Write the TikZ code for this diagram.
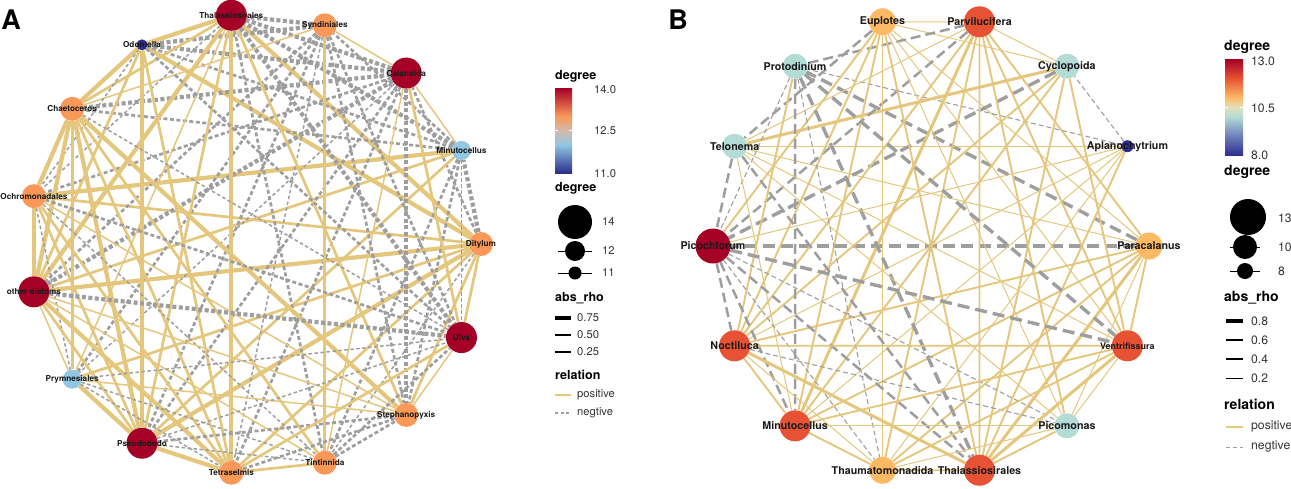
\documentclass[tikz,border=0pt]{standalone}
\usepackage{fontspec}
\setmainfont{TeX Gyre Heros}
\usetikzlibrary{backgrounds}
\definecolor{posedge}{RGB}{228,198,125}
\definecolor{negedge}{RGB}{158,158,158}
\definecolor{degA14}{RGB}{165,0,38}
\definecolor{degA13}{RGB}{250,152,88}
\definecolor{degA12}{RGB}{145,199,226}
\definecolor{degA11}{RGB}{43,46,143}
\definecolor{midA}{RGB}{212,184,172}
\definecolor{degB13}{RGB}{165,0,38}
\definecolor{degB12}{RGB}{231,82,52}
\definecolor{degB11}{RGB}{253,185,100}
\definecolor{degB10}{RGB}{180,220,214}
\definecolor{degB9}{RGB}{112,128,185}
\definecolor{degB8}{RGB}{45,46,145}
\definecolor{midB}{RGB}{228,222,186}
\tikzset{
  vert/.style={circle, inner sep=0pt, minimum size=#1},
  labA/.style={font=\fontsize{8.2}{9}\selectfont\bfseries, text=black!90, inner sep=0pt},
  labB/.style={font=\fontsize{10.7}{12}\selectfont\bfseries, text=black!90, inner sep=0pt},
  legtitleA/.style={font=\fontsize{12.5}{14}\selectfont\bfseries, anchor=west, inner sep=0pt},
  legtextA/.style={font=\fontsize{11.2}{13}\selectfont, text=black!80, anchor=west, inner sep=0pt},
  legtitleB/.style={font=\fontsize{14}{16}\selectfont\bfseries, anchor=west, inner sep=0pt},
  legtextB/.style={font=\fontsize{12.2}{14}\selectfont, text=black!80, anchor=west, inner sep=0pt},
  posA1/.style={posedge, line width=1.5pt},
  posA2/.style={posedge, line width=2.7pt},
  posA3/.style={posedge, line width=4.2pt},
  negA1/.style={negedge, line width=1.5pt, dash pattern=on 3.5pt off 2.5pt},
  negA2/.style={negedge, line width=2.7pt, dash pattern=on 4pt off 2.5pt},
  negA3/.style={negedge, line width=4.2pt, dash pattern=on 4pt off 2.5pt},
  posB1/.style={posedge, line width=1pt},
  posB2/.style={posedge, line width=1.9pt},
  posB3/.style={posedge, line width=3pt},
  negB1/.style={negedge, line width=1.1pt, dash pattern=on 5pt off 3pt},
  negB2/.style={negedge, line width=2.5pt, dash pattern=on 10pt off 5pt},
  negB3/.style={negedge, line width=3.4pt, dash pattern=on 12pt off 6pt}
}

\begin{document}
\begin{tikzpicture}[x=1pt, y=-1pt]
  \useasboundingbox (0,0) rectangle (1291,488);

  % Panel letters
  \node[font=\fontsize{27}{30}\selectfont\bfseries] (letA) at (11,20) {A};
  \node[font=\fontsize{27}{30}\selectfont\bfseries] (letB) at (678,20) {B};

  % Panel A vertices
  \foreach \nm/\k/\c/\d in {Dit/0/degA13/24, Min/1/degA12/19, Cal/2/degA14/31, Syn/3/degA13/24,
      Tha/4/degA14/31, Odo/5/degA11/11, Cha/6/degA13/24, Och/7/degA13/24, Oth/8/degA14/31,
      Pry/9/degA12/19, Pse/10/degA14/31, Tet/11/degA13/24, Tin/12/degA13/24, Ste/13/degA13/24,
      Ulv/14/degA14/31}
    \node[vert=\d pt, fill=\c] (a\nm) at ({255+226*cos(24*\k)}, {244-230*sin(24*\k)}) {};

  % Panel A edges
  \begin{pgfonlayer}{background}
  \foreach \u/\v/\s in {Dit/Min/negA3, Dit/Cal/negA2, Dit/Tha/posA3, Dit/Odo/posA3, Dit/Och/posA2,
      Dit/Oth/posA3, Dit/Pry/posA2, Dit/Pse/posA3, Dit/Tet/posA2, Dit/Tin/negA1, Dit/Ste/posA2,
      Dit/Ulv/posA2, Min/Cal/posA1, Min/Syn/negA2, Min/Tha/negA3, Min/Odo/negA2, Min/Cha/negA2,
      Min/Och/posA3, Min/Oth/posA2, Min/Pse/posA2, Min/Tin/negA2, Min/Ste/negA2, Min/Ulv/negA1,
      Cal/Syn/posA1, Cal/Tha/negA3, Cal/Odo/negA3, Cal/Cha/negA3, Cal/Och/negA2, Cal/Oth/negA3,
      Cal/Pry/negA1, Cal/Pse/negA2, Cal/Tet/negA2, Cal/Tin/posA1, Cal/Ste/negA3, Cal/Ulv/posA2,
      Syn/Tha/negA3, Syn/Odo/negA3, Syn/Cha/posA1, Syn/Oth/negA2, Syn/Pry/negA2, Syn/Pse/negA2,
      Syn/Tet/negA1, Syn/Tin/posA2, Syn/Ste/negA2, Syn/Ulv/negA2,
      Tha/Odo/posA3, Tha/Cha/posA2, Tha/Och/negA1, Tha/Oth/posA3, Tha/Pry/posA1, Tha/Pse/posA2,
      Tha/Tet/posA3, Tha/Tin/negA2, Tha/Ste/posA2, Tha/Ulv/negA3,
      Odo/Cha/posA3, Odo/Och/negA1, Odo/Oth/posA2, Odo/Pse/posA3, Odo/Tet/posA2, Odo/Ulv/negA2,
      Cha/Och/posA3, Cha/Oth/posA3, Cha/Pry/posA2, Cha/Pse/posA3, Cha/Tet/posA2, Cha/Tin/posA2,
      Cha/Ste/posA3, Cha/Ulv/negA1,
      Och/Oth/posA3, Och/Pry/negA1, Och/Pse/posA2, Och/Tet/posA2, Och/Tin/negA1, Och/Ste/posA1,
      Och/Ulv/negA2, Oth/Pry/posA1, Oth/Pse/posA2, Oth/Tet/posA3, Oth/Tin/posA1, Oth/Ste/posA1,
      Oth/Ulv/negA3, Pry/Pse/posA3, Pry/Tet/negA1, Pry/Tin/negA1, Pry/Ste/posA1, Pry/Ulv/negA1,
      Pse/Tet/posA3, Pse/Tin/negA1, Pse/Ste/negA2, Pse/Ulv/negA1,
      Tet/Tin/posA2, Tet/Ste/negA2, Tet/Ulv/posA2, Tin/Ste/negA2, Tin/Ulv/negA2, Ste/Ulv/posA1}
    \draw[\s] (a\u) -- (a\v);
  \end{pgfonlayer}

  % Panel A labels
  \foreach \nm/\t in {Dit/Ditylum, Min/Minutocellus, Cal/Calanoida, Syn/Syndiniales,
      Tha/Thalassiosirales, Odo/Odontella, Cha/Chaetoceros, Och/Ochromonadales,
      Oth/other diatoms, Pry/Prymnesiales, Pse/Pseudobodo, Tet/Tetraselmis, Tin/Tintinnida,
      Ste/Stephanopyxis, Ulv/Ulva}
    \node[labA] (a\nm L) at (a\nm) {\t};

  % Panel B vertices
  \foreach \nm/\k/\c/\d in {Par/0/degB11/27, Apl/1/degB8/12, Cyc/2/degB10/25, Prv/3/degB12/31,
      Eup/4/degB11/27, Pro/5/degB10/25, Tel/6/degB10/25, Pic/7/degB13/35, Noc/8/degB12/31,
      Min/9/degB12/31, Thm/10/degB11/27, Tha/11/degB12/31, Pcm/12/degB10/25, Ven/13/degB12/31}
    \node[vert=\d pt, fill=\c] (b\nm) at ({931+218*cos(360/14*\k)}, {246-230*sin(360/14*\k)}) {};

  % Panel B edges
  \begin{pgfonlayer}{background}
  \foreach \u/\v/\s in {Par/Prv/posB2, Par/Eup/posB1, Par/Pro/negB3, Par/Tel/posB1, Par/Pic/negB3,
      Par/Noc/posB2, Par/Min/posB2, Par/Thm/posB2, Par/Tha/posB3, Par/Pcm/posB1, Par/Ven/posB2,
      Apl/Cyc/negB1, Apl/Pro/negB1, Apl/Tel/posB1, Apl/Pic/posB1, Apl/Noc/posB1, Apl/Min/posB1,
      Apl/Thm/posB1, Apl/Tha/posB2,
      Cyc/Prv/posB1, Cyc/Eup/posB1, Cyc/Tel/posB3, Cyc/Pic/negB3, Cyc/Noc/posB2, Cyc/Min/posB2,
      Cyc/Tha/posB2, Cyc/Ven/posB2,
      Prv/Eup/posB1, Prv/Pro/negB2, Prv/Tel/posB1, Prv/Pic/negB2, Prv/Noc/posB2, Prv/Min/posB3,
      Prv/Thm/posB2, Prv/Tha/posB2, Prv/Pcm/posB2, Prv/Ven/posB2,
      Eup/Tel/negB2, Eup/Pic/posB2, Eup/Noc/posB2, Eup/Min/posB2, Eup/Thm/posB2, Eup/Tha/posB2,
      Eup/Pcm/posB1, Eup/Ven/posB1,
      Pro/Pic/negB1, Pro/Noc/posB2, Pro/Min/negB2, Pro/Thm/negB1, Pro/Tha/negB3, Pro/Ven/negB3,
      Tel/Pic/negB2, Tel/Min/posB1, Tel/Tha/negB2, Tel/Pcm/posB1, Tel/Ven/posB1,
      Pic/Noc/negB2, Pic/Min/negB2, Pic/Thm/negB1, Pic/Tha/negB2, Pic/Pcm/negB1, Pic/Ven/negB3,
      Noc/Min/posB2, Noc/Thm/posB1, Noc/Tha/posB3, Noc/Pcm/negB1, Noc/Ven/posB2,
      Min/Thm/posB2, Min/Pcm/posB1, Min/Ven/posB2, Thm/Tha/posB2, Thm/Pcm/posB1, Thm/Ven/posB2,
      Tha/Pcm/posB2, Tha/Ven/posB3, Pcm/Ven/posB1}
    \draw[\s] (b\u) -- (b\v);
  \end{pgfonlayer}

  % Panel B labels
  \foreach \nm/\t in {Par/Paracalanus, Apl/Aplanochytrium, Cyc/Cyclopoida, Prv/Parvilucifera,
      Eup/Euplotes, Pro/Protodinium, Tel/Telonema, Pic/Picochlorum, Noc/Noctiluca,
      Min/Minutocellus, Thm/Thaumatomonadida, Tha/Thalassiosirales, Pcm/Picomonas}
    \node[labB] (b\nm L) at (b\nm) {\t};
  \node[labB, font=\fontsize{9}{10}\selectfont\bfseries] (bVenL) at (bVen) {Ventrifissura};

  % Legend A: colour bar
  \node[legtitleA] (aLegCol) at (555,76) {degree};
  \foreach \ya/\yb/\ca/\cb in {173/144.7/degA11/degA12, 144.7/130.5/degA12/midA,
      130.5/116.3/midA/degA13, 116.3/88/degA13/degA14}
    \shade[bottom color=\ca, top color=\cb] (555,\yb) rectangle (572,\ya);
  \draw[white, line width=0.6pt] (555,130.5) -- (558,130.5) (569,130.5) -- (572,130.5);
  \node[legtextA] (aCol14) at (594,90) {14.0};
  \node[legtextA] (aCol125) at (594,131) {12.5};
  \node[legtextA] (aCol11) at (594,174) {11.0};

  % Legend A: size
  \node[legtitleA] (aLegSize) at (555,188) {degree};
  \node[vert=34pt, fill=black] (aKey14) at (575,222) {};
  \draw[line width=1pt] (558,251) -- (592,251);
  \node[vert=20pt, fill=black] (aKey12) at (575,251) {};
  \draw[line width=1pt] (558,273) -- (592,273);
  \node[vert=13pt, fill=black] (aKey11) at (575,273) {};
  \node[legtextA] (aSize14) at (602,222) {14};
  \node[legtextA] (aSize12) at (602,251) {12};
  \node[legtextA] (aSize11) at (602,273) {11};

  % Legend A: abs_rho and relation
  \node[legtitleA] (aLegRho) at (555,298) {abs\_rho};
  \draw[line width=3.4pt] (555,318) -- (571,318);
  \draw[line width=2.9pt] (555,335) -- (571,335);
  \draw[line width=2.3pt] (555,352) -- (571,352);
  \node[legtextA] (aRho75) at (577,318) {0.75};
  \node[legtextA] (aRho50) at (577,335) {0.50};
  \node[legtextA] (aRho25) at (577,352) {0.25};
  \node[legtitleA] (aLegRel) at (555,375) {relation};
  \draw[posedge, line width=1.3pt] (555,395) -- (571,395);
  \draw[negedge, line width=1.1pt, dash pattern=on 3pt off 2.5pt] (555,413) -- (571,413);
  \node[legtextA] (aRelPos) at (577,395) {positive};
  \node[legtextA] (aRelNeg) at (577,413) {negtive};

  % Legend B: colour bar
  \node[legtitleB] (bLegCol) at (1224,47) {degree};
  \foreach \ya/\yb/\ca/\cb in {155/135.8/degB8/degB9, 135.8/116.6/degB9/degB10,
      116.6/107/degB10/midB, 107/97.4/midB/degB11, 97.4/78.2/degB11/degB12,
      78.2/59/degB12/degB13}
    \shade[bottom color=\ca, top color=\cb] (1225,\yb) rectangle (1243,\ya);
  \draw[white, line width=0.6pt] (1225,107) -- (1228,107) (1240,107) -- (1243,107);
  \node[legtextB] (bCol13) at (1251,61) {13.0};
  \node[legtextB] (bCol105) at (1251,108) {10.5};
  \node[legtextB] (bCol8) at (1251,155) {8.0};

  % Legend B: size
  \node[legtitleB] (bLegSize) at (1224,172) {degree};
  \node[vert=36pt, fill=black] (bKey13) at (1248,217) {};
  \draw[line width=1pt] (1230,247) -- (1260,247);
  \node[vert=24pt, fill=black] (bKey10) at (1245,247) {};
  \draw[line width=1pt] (1230,271) -- (1260,271);
  \node[vert=16pt, fill=black] (bKey8) at (1245,271) {};
  \node[legtextB] (bSize13) at (1278,218) {13};
  \node[legtextB] (bSize10) at (1278,247) {10};
  \node[legtextB] (bSize8) at (1278,271) {8};

  % Legend B: abs_rho and relation
  \node[legtitleB] (bLegRho) at (1224,298) {abs\_rho};
  \draw[line width=3.2pt] (1226,321) -- (1243,321);
  \draw[line width=2.6pt] (1226,340) -- (1243,340);
  \draw[line width=1.8pt] (1226,359) -- (1243,359);
  \draw[line width=1.0pt] (1226,378) -- (1243,378);
  \node[legtextB] (bRho8) at (1251,321) {0.8};
  \node[legtextB] (bRho6) at (1251,340) {0.6};
  \node[legtextB] (bRho4) at (1251,359) {0.4};
  \node[legtextB] (bRho2) at (1251,378) {0.2};
  \node[legtitleB] (bLegRel) at (1224,404) {relation};
  \draw[posedge, line width=1.2pt] (1226,427) -- (1243,427);
  \draw[negedge, line width=1.0pt, dash pattern=on 4pt off 3pt] (1226,447) -- (1243,447);
  \node[legtextB] (bRelPos) at (1251,427) {positive};
  \node[legtextB] (bRelNeg) at (1251,447) {negtive};
\end{tikzpicture}
\end{document}
